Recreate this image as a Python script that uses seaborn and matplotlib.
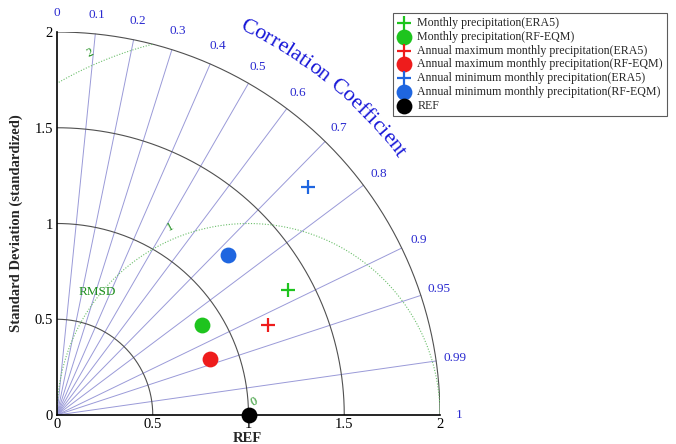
import numpy as np
import pandas as pd
import matplotlib
matplotlib.use("Agg")
import matplotlib.pyplot as plt
import seaborn as sns

sns.set_theme(style="white")
plt.rcParams["font.family"] = ["Liberation Serif", "DejaVu Serif"]

# data: standardized std and correlation
names = ["Monthly precipitation(ERA5)", "Monthly precipitation(RF-EQM)",
         "Annual maximum monthly precipitation(ERA5)", "Annual maximum monthly precipitation(RF-EQM)",
         "Annual minimum monthly precipitation(ERA5)", "Annual minimum monthly precipitation(RF-EQM)",
         "REF"]
std_vals = [1.37, 0.89, 1.20, 0.85, 1.77, 1.22, 1.0]
corr_vals = [0.88, 0.85, 0.92, 0.94, 0.74, 0.73, 1.0]
colors = ["#1ec41e", "#1ec41e", "#ee1c1c", "#ee1c1c", "#1f66e0", "#1f66e0", "black"]
markers = ["+", "o", "+", "o", "+", "o", "o"]

corr_ticks = [0, 0.1, 0.2, 0.3, 0.4, 0.5, 0.6, 0.7, 0.8, 0.9, 0.95, 0.99, 1]
corr_lines = [0.1, 0.2, 0.3, 0.4, 0.5, 0.6, 0.7, 0.8, 0.9, 0.95, 0.99]
std_arcs = [0.5, 1, 1.5, 2]
rmsd_levels = [1, 2]
std_ticks = [0, 0.5, 1, 1.5, 2]

df = pd.DataFrame({"name": names, "std": std_vals, "corr": corr_vals})
df["x"] = df["std"] * df["corr"]
df["y"] = df["std"] * np.sqrt(1 - df["corr"] ** 2)

fig = plt.figure(figsize=(6.76, 4.44), dpi=100)
ax = fig.add_axes([57 / 676, 1 - 415 / 444, 383 / 676, 383 / 444])
ax.set_xlim(0, 2)
ax.set_ylim(0, 2)

blue_txt = "#2a2ad0"
green_txt = "#1f8f1f"

# radial correlation lines
for c in corr_lines:
    a = np.arccos(c)
    ax.plot([0, 2 * np.cos(a)], [0, 2 * np.sin(a)], color="#9a9ad8", lw=0.7, zorder=1)

# std arcs
t = np.linspace(0, np.pi / 2, 300)
for r in std_arcs:
    ax.plot(r * np.cos(t), r * np.sin(t), color="#505050", lw=0.8, zorder=2)

# RMSD circles centred at REF
t2 = np.linspace(0, np.pi, 600)
for r in rmsd_levels:
    cx = 1 + r * np.cos(t2)
    cy = r * np.sin(t2)
    m = (cx ** 2 + cy ** 2 <= 4.0001) & (cx >= 0)
    cx = np.where(m, cx, np.nan)
    cy = np.where(m, cy, np.nan)
    ax.plot(cx, cy, color="#6cbf6c", lw=0.8, ls=(0, (1, 1.5)), zorder=2)

ax.text(1.03, 0.07, "0", color=green_txt, fontsize=9, rotation=25, ha="center", va="center")
ax.text(0.59, 0.98, "1", color=green_txt, fontsize=9, rotation=28, ha="center", va="center")
ax.text(0.17, 1.89, "2", color=green_txt, fontsize=9, rotation=25, ha="center", va="center")
ax.text(0.21, 0.64, "RMSD", color=green_txt, fontsize=9.5, ha="center", va="center")

# correlation tick labels
for c in corr_ticks:
    a = np.arccos(c)
    lab = "%g" % c
    ax.text(2.1 * np.cos(a), 2.1 * np.sin(a), lab, color=blue_txt, fontsize=9.5,
            ha="center", va="center", clip_on=False)

# curved title
title = "Correlation Coefficient"
fs = 16
renderer = fig.canvas.get_renderer()
prop = matplotlib.font_manager.FontProperties(family=["Liberation Serif"], size=fs)
px_per_unit = 383 / 2
R = 2.23
widths = [renderer.get_text_width_height_descent(title[:i], prop, ismath=False)[0] for i in range(len(title) + 1)]
mid0 = widths[1] / 2
a0 = np.radians(63.8)
for i, ch in enumerate(title):
    mid = (widths[i] + widths[i + 1]) / 2
    a = a0 - (mid - mid0) / (R * px_per_unit)
    ax.text(R * np.cos(a), R * np.sin(a), ch, color="#1818d8", fontsize=fs,
            rotation=np.degrees(a) - 90, rotation_mode="anchor",
            ha="center", va="baseline", clip_on=False)

# points
for i, row in df.iterrows():
    mk = markers[i]
    if mk == "+":
        sns.scatterplot(x=[row["x"]], y=[row["y"]], marker="+", s=110, color=colors[i],
                        linewidth=1.6, label=row["name"], ax=ax, zorder=5, clip_on=False)
    else:
        sns.scatterplot(x=[row["x"]], y=[row["y"]], marker="o", s=130, color=colors[i],
                        edgecolor=colors[i], linewidth=0, label=row["name"], ax=ax, zorder=5,
                        clip_on=False)

# axes styling
for s in ["top", "right"]:
    ax.spines[s].set_visible(False)
ax.spines["left"].set_color("black")
ax.spines["bottom"].set_color("black")
ax.spines["left"].set_linewidth(1.2)
ax.spines["bottom"].set_linewidth(1.2)
ax.set_xticks(std_ticks)
ax.set_yticks(std_ticks)
ax.set_xticklabels(["%g" % v for v in std_ticks])
ax.set_yticklabels(["%g" % v for v in std_ticks])
ax.tick_params(axis="both", labelsize=10.5, length=3, direction="in", colors="black", pad=3)
ax.tick_params(axis="x", pad=2)
ax.set_xlabel("")
fig.text(247 / 676, 1 - 438 / 444, "REF", fontsize=10.5, fontweight="bold", ha="center", va="center")
ax.set_ylabel("Standard Deviation (standardized)", fontsize=10.5, fontweight="bold", labelpad=8)

leg = ax.legend(loc="upper left", bbox_to_anchor=(393 / 676, 1 - 13 / 444),
                bbox_transform=fig.transFigure, fontsize=8.55, frameon=True, fancybox=False,
                labelspacing=0.15, handletextpad=0.5, borderpad=0.35, handlelength=1.2,
                borderaxespad=0)
leg.get_frame().set_edgecolor("#333333")
leg.get_frame().set_linewidth(0.8)

fig.savefig("out.png", dpi=100)
